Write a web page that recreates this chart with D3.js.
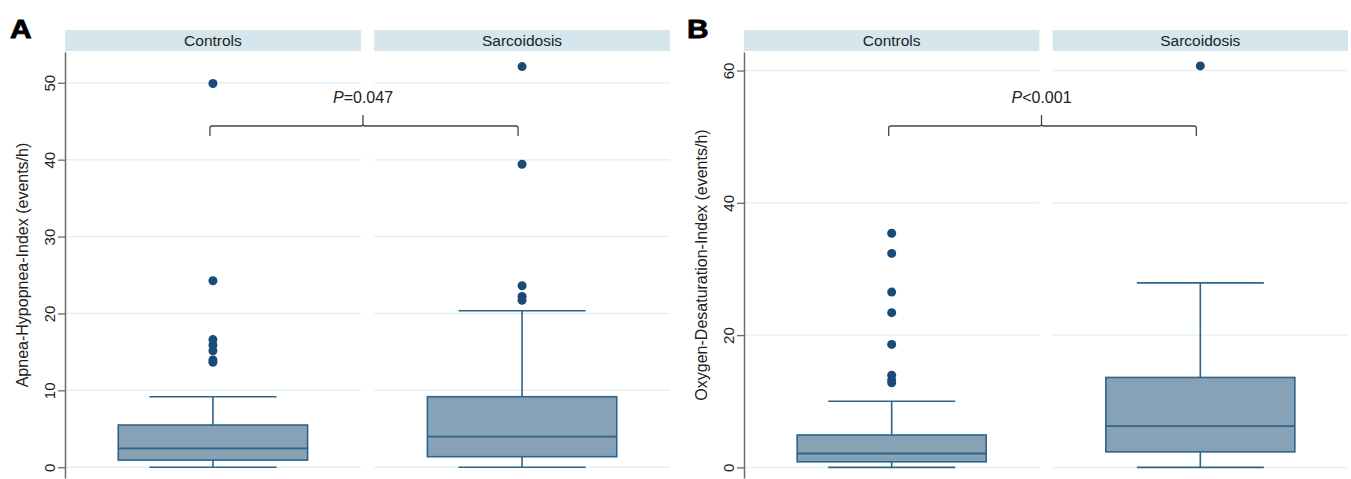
<!DOCTYPE html>
<html>
<head>
<meta charset="utf-8">
<script src="https://cdn.jsdelivr.net/npm/d3@7"></script>
<style>
  body { margin: 0; background: #fff; }
  svg { font-family: "Liberation Sans", Arial, Helvetica, sans-serif; }
</style>
</head>
<body>
<div id="chart"></div>
<script>
// Groups shown as facets in both panels
const groups = ["Controls", "Sarcoidosis"];

// Panel A: Apnea-Hypopnea-Index, box statistics per group
const ahiLow = [0, 0];
const ahiQ1 = [0.93, 1.37];
const ahiMedian = [2.45, 3.97];
const ahiQ3 = [5.49, 9.17];
const ahiHigh = [9.17, 20.35];
const ahiOutControls = [13.65, 13.95, 15.15, 15.9, 16.6, 24.25, 49.9];
const ahiOutSarcoidosis = [21.7, 22.2, 23.6, 39.4, 52.1];
const ahiTicks = [0, 10, 20, 30, 40, 50];

// Panel B: Oxygen-Desaturation-Index, box statistics per group
const odiLow = [0, 0];
const odiQ1 = [0.85, 2.35];
const odiMedian = [2.1, 6.25];
const odiQ3 = [4.9, 13.6];
const odiHigh = [10.0, 27.9];
const odiOutControls = [12.8, 13.2, 13.95, 18.6, 23.4, 26.5, 32.35, 35.4];
const odiOutSarcoidosis = [60.7];
const odiTicks = [0, 20, 40, 60];

const W = 1351, H = 479;
const plotTop = 52, plotBottom = 478, stripTop = 30;

const boxFill = "#87a2b6", boxStroke = "#2d6489", dotColor = "#1a4a78";
const gridColor = "#e6f1f3", stripColor = "#d5e6ec";

const svg = d3.select("#chart").append("svg")
  .attr("width", W)
  .attr("height", H);

function drawPanel(p) {
  const g = svg.append("g");

  const x = d3.scaleBand()
    .domain(groups)
    .range([p.left, p.right])
    .paddingInner(0.043);

  const y = d3.scaleLinear()
    .domain(p.domain)
    .range([plotBottom, plotTop]);

  const bw = x.bandwidth();

  // facet strips
  g.selectAll("rect.strip")
    .data(groups)
    .enter().append("rect")
    .attr("class", "strip")
    .attr("x", d => x(d))
    .attr("y", stripTop)
    .attr("width", bw)
    .attr("height", plotTop - stripTop - 1)
    .attr("fill", stripColor);

  g.selectAll("text.strip")
    .data(groups)
    .enter().append("text")
    .attr("class", "strip")
    .attr("x", d => x(d) + bw / 2)
    .attr("y", stripTop + 16)
    .attr("text-anchor", "middle")
    .style("font-size", "15.5px")
    .style("fill", "#222")
    .text(d => d);

  // horizontal gridlines, drawn per facet
  groups.forEach(grp => {
    g.selectAll(null)
      .data(p.ticks)
      .enter().append("line")
      .attr("x1", x(grp))
      .attr("x2", x(grp) + bw)
      .attr("y1", d => y(d))
      .attr("y2", d => y(d))
      .style("stroke", gridColor)
      .style("stroke-width", 1.5);
  });

  // box plots
  const stats = groups.map((grp, i) => ({
    grp: grp,
    lo: p.low[i], q1: p.q1[i], med: p.median[i], q3: p.q3[i], hi: p.high[i],
    out: p.outliers[i]
  }));

  const boxW = bw * 0.64, capW = bw * 0.43;
  const box = g.selectAll("g.box")
    .data(stats)
    .enter().append("g")
    .attr("class", "box")
    .attr("transform", d => "translate(" + (x(d.grp) + bw / 2) + ",0)");

  // whiskers
  box.append("line")
    .attr("x1", 0).attr("x2", 0)
    .attr("y1", d => y(d.hi)).attr("y2", d => y(d.q3));
  box.append("line")
    .attr("x1", 0).attr("x2", 0)
    .attr("y1", d => y(d.q1)).attr("y2", d => y(d.lo));
  box.append("line")
    .attr("x1", -capW / 2).attr("x2", capW / 2)
    .attr("y1", d => y(d.hi)).attr("y2", d => y(d.hi));
  box.append("line")
    .attr("x1", -capW / 2).attr("x2", capW / 2)
    .attr("y1", d => y(d.lo)).attr("y2", d => y(d.lo));
  box.selectAll("line")
    .style("stroke", boxStroke)
    .style("stroke-width", 1.6);

  box.append("rect")
    .attr("x", -boxW / 2)
    .attr("width", boxW)
    .attr("y", d => y(d.q3))
    .attr("height", d => y(d.q1) - y(d.q3))
    .attr("fill", boxFill)
    .attr("stroke", boxStroke)
    .attr("stroke-width", 1.6);

  box.append("line")
    .attr("x1", -boxW / 2).attr("x2", boxW / 2)
    .attr("y1", d => y(d.med)).attr("y2", d => y(d.med))
    .style("stroke", boxStroke)
    .style("stroke-width", 1.8);

  box.selectAll("circle")
    .data(d => d.out)
    .enter().append("circle")
    .attr("cx", 0)
    .attr("cy", d => y(d))
    .attr("r", 4.5)
    .attr("fill", dotColor);

  // y axis
  const yAxis = d3.axisLeft(y)
    .tickValues(p.ticks)
    .tickSize(7)
    .tickSizeOuter(0);

  const ax = g.append("g")
    .attr("transform", "translate(" + p.left + ",0)")
    .call(yAxis);
  ax.select(".domain").style("stroke", "#6b6b6b").style("stroke-width", 1.5);
  ax.selectAll(".tick line").style("stroke", "#6b6b6b").style("stroke-width", 1.3);
  ax.selectAll(".tick text")
    .attr("transform", "rotate(-90)")
    .attr("x", 0)
    .attr("y", -10)
    .attr("dy", 0)
    .style("text-anchor", "middle")
    .style("font-size", "15px")
    .style("fill", "#222")
    .style("font-family", "'Liberation Sans', Arial, sans-serif");

  // axis title
  g.append("text")
    .attr("transform", "translate(" + (p.left - 37) + "," + ((plotTop + plotBottom) / 2) + ") rotate(-90)")
    .attr("text-anchor", "middle")
    .style("font-size", "16px")
    .style("fill", "#222")
    .text(p.title);

  // comparison bracket with p value
  const xa = x(groups[0]) + bw / 2 - 3, xb = x(groups[1]) + bw / 2 - 4;
  const xm = (xa + xb) / 2 - 1;
  const by = plotTop + 74;
  g.append("path")
    .attr("d", "M" + xa + "," + (by + 10) + " V" + (by + 2) + " Q" + xa + "," + by + " " + (xa + 2) + "," + by +
      " H" + (xm - 2) + " Q" + xm + "," + by + " " + xm + "," + (by - 2) + " V" + (by - 11) +
      " M" + xm + "," + (by - 2) + " Q" + xm + "," + by + " " + (xm + 2) + "," + by +
      " H" + (xb - 2) + " Q" + xb + "," + by + " " + xb + "," + (by + 2) + " V" + (by + 10))
    .attr("fill", "none")
    .attr("stroke", "#444")
    .attr("stroke-width", 1.3);

  const pt = g.append("text")
    .attr("x", xm)
    .attr("y", plotTop + 51)
    .attr("text-anchor", "middle")
    .style("font-size", "16px")
    .style("fill", "#222");
  pt.append("tspan").style("font-style", "italic").text("P");
  pt.append("tspan").text(p.pLabel);

  // panel letter
  svg.append("text")
    .attr("transform", "translate(" + p.letterX + ",38) scale(1.15,1)")
    .style("font-size", "26px")
    .style("font-weight", "900")
    .style("fill", "#000")
    .style("stroke", "#000")
    .style("stroke-width", 0.8)
    .text(p.letter);
}

drawPanel({
  left: 65, right: 670,
  domain: [-1.4, 54],
  ticks: ahiTicks,
  low: ahiLow, q1: ahiQ1, median: ahiMedian, q3: ahiQ3, high: ahiHigh,
  outliers: [ahiOutControls, ahiOutSarcoidosis],
  title: "Apnea-Hypopnea-Index (events/h)",
  pLabel: "=0.047",
  letter: "A", letterX: 10
});

drawPanel({
  left: 744, right: 1348,
  domain: [-1.6, 62.8],
  ticks: odiTicks,
  low: odiLow, q1: odiQ1, median: odiMedian, q3: odiQ3, high: odiHigh,
  outliers: [odiOutControls, odiOutSarcoidosis],
  title: "Oxygen-Desaturation-Index (events/h)",
  pLabel: "<0.001",
  letter: "B", letterX: 687
});
</script>
</body>
</html>
